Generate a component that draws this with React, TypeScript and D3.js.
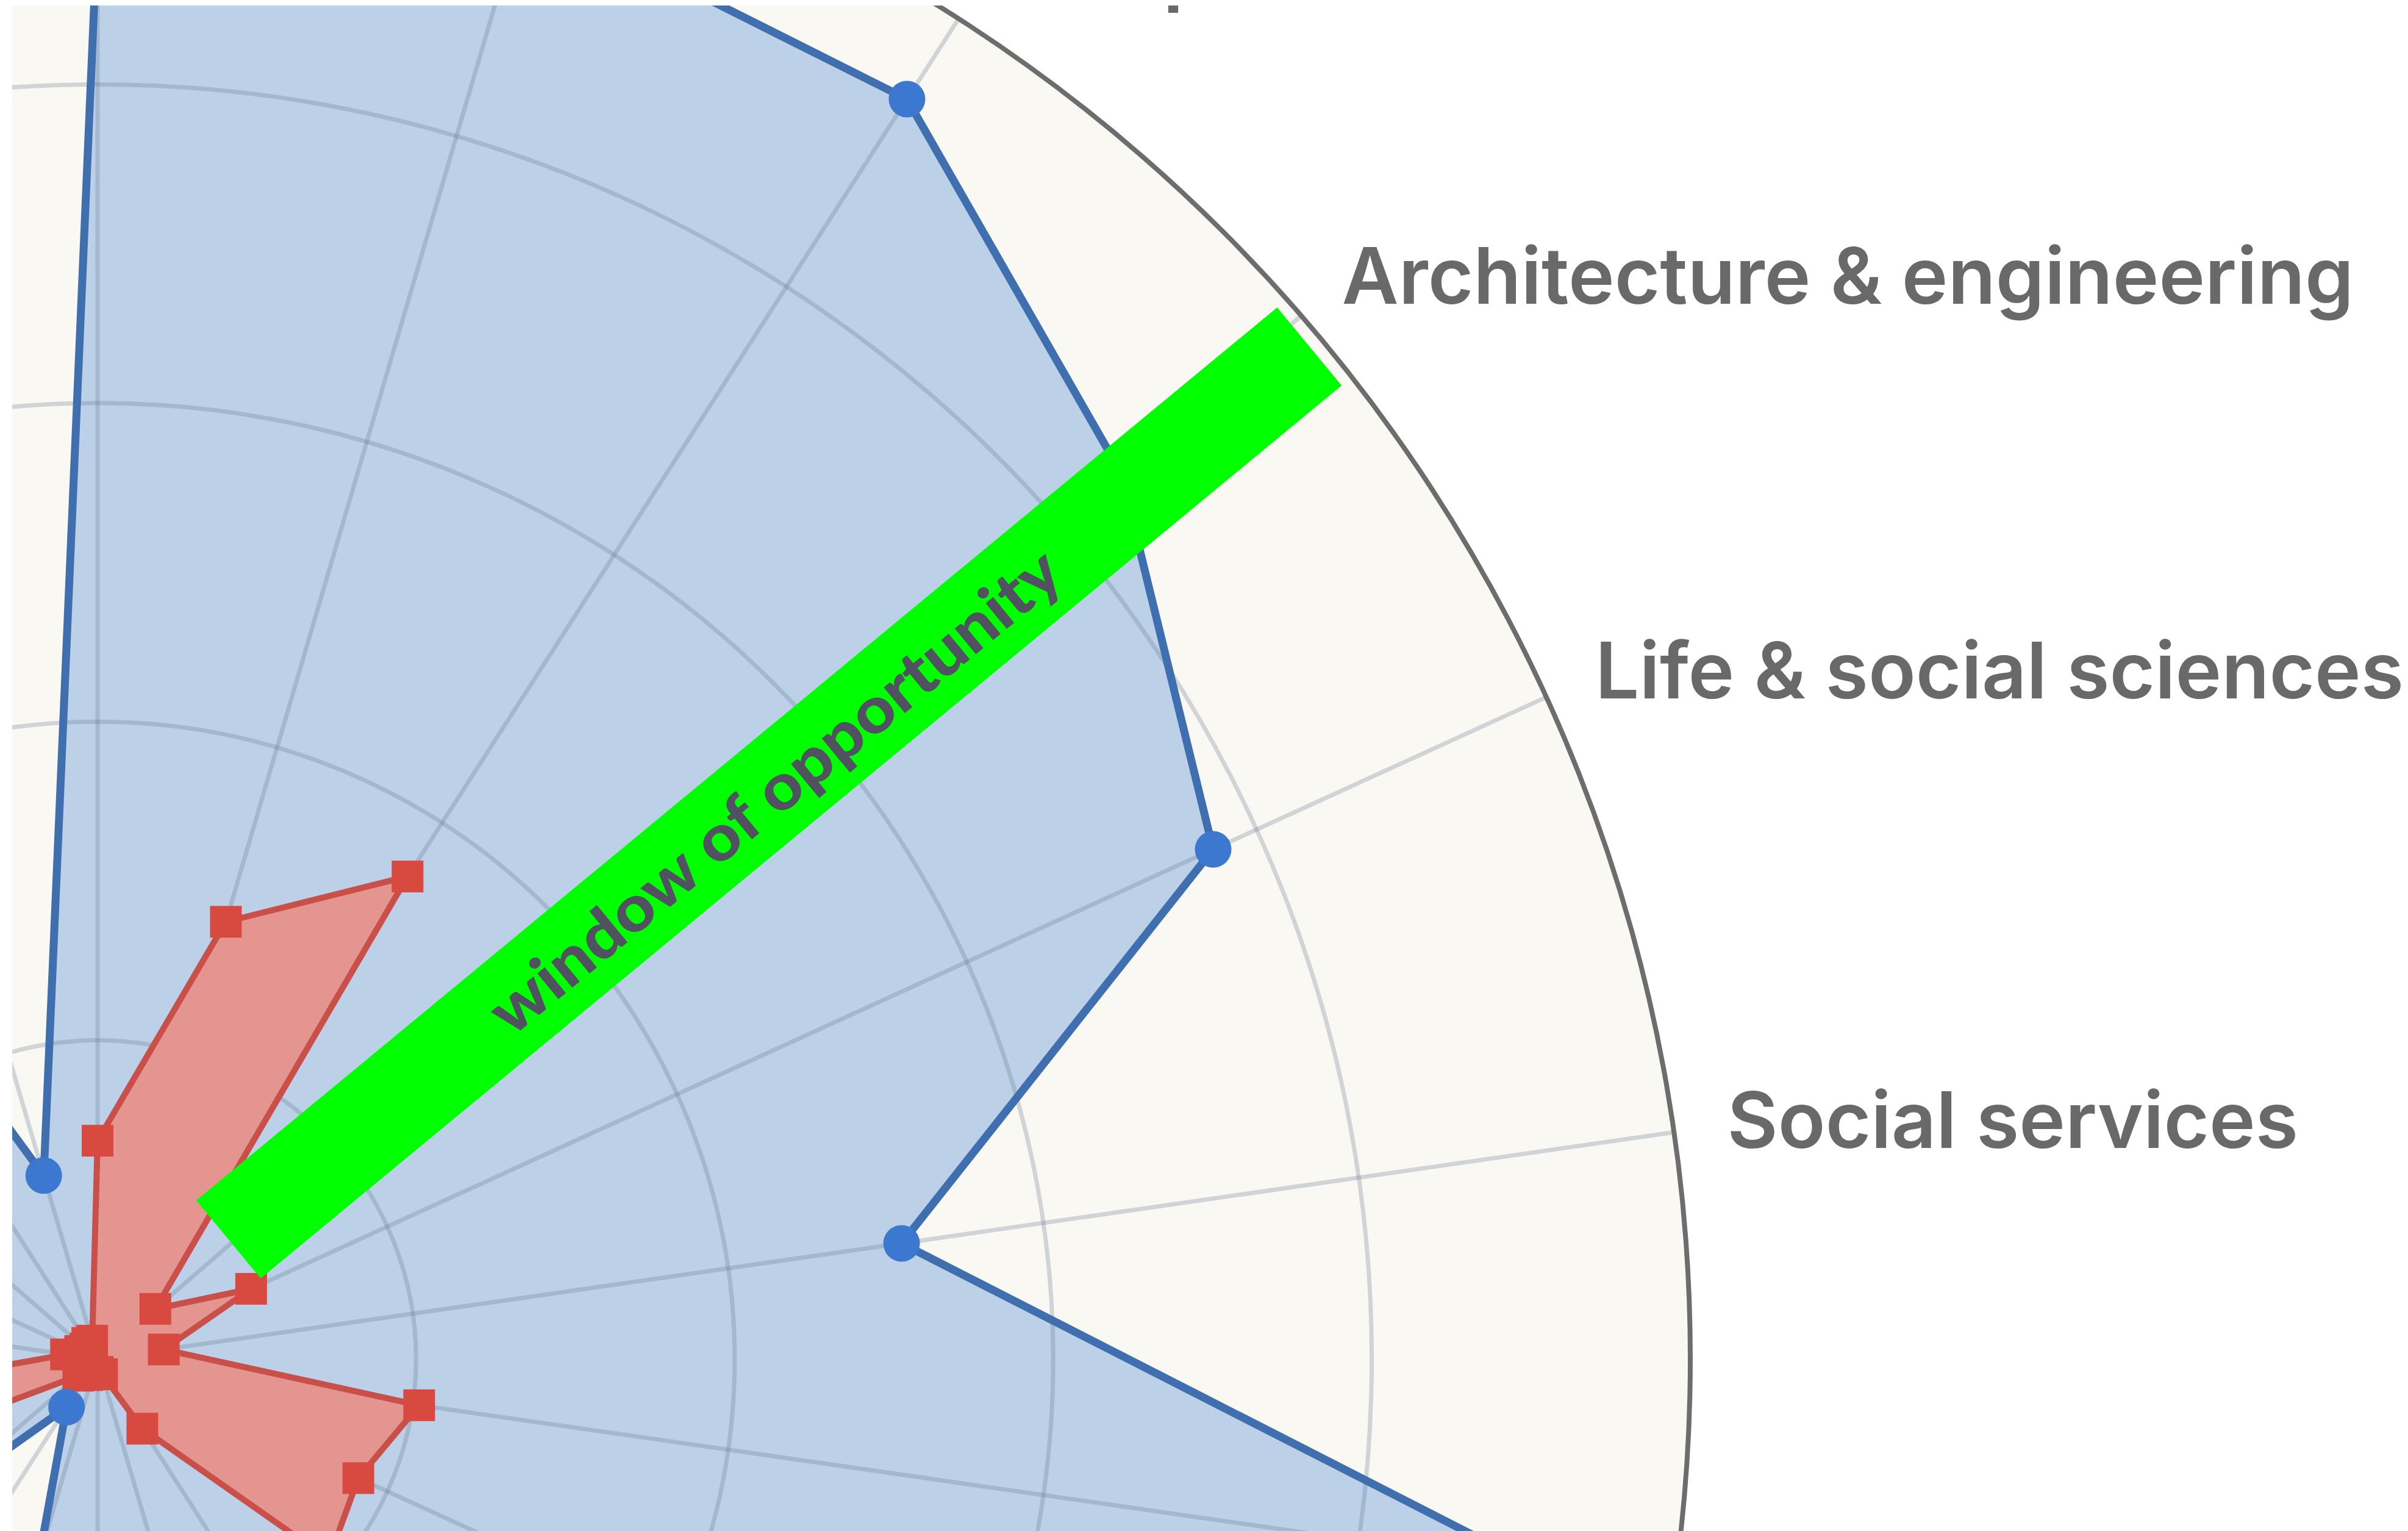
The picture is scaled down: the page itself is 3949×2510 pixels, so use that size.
import React, { useRef, useEffect } from 'react';
import * as d3 from 'd3';

// occupation groups, clockwise from the top
const categories = [
  'Management',
  'Business & finance',
  'Computer & mathematical',
  'Architecture & engineering',
  'Life & social sciences',
  'Social services',
  'Legal',
  'Education',
  'Arts & media',
  'Healthcare practitioners',
  'Healthcare support',
  'Protective services',
  'Food service',
  'Building maintenance',
  'Personal service',
  'Sales',
  'Office & administrative',
  'Farming, fishing & forestry',
  'Construction',
  'Installation & repair',
  'Production',
  'Transportation',
];

// blue series (theoretical coverage, %)
const theoretical = [90, 95, 94, 85, 77, 51, 91, 60, 50, 40, 30, 20, 13, 3.6, 14, 24, 30, 44, 56, 60, 66, 12];

// red series (observed coverage, %)
const observed = [13.7, 28.6, 36, 4.8, 10.6, 4.2, 20.4, 18, 19.2, 5.2, 1, 0.8, 1, 1.2, 1.6, 8, 18, 2, 1.2, 1, 1.2, 1.2];

const ringTicks = [20, 40, 60, 80, 100];

const annotationText = 'window of opportunity';

const WIDTH = 3949;
const HEIGHT = 2510;

const App = () => {
  const svgRef = useRef<SVGSVGElement>(null);

  useEffect(() => {
    const svg = d3.select(svgRef.current);
    svg.selectAll('*').remove();

    const cx = 160;
    const cy = 2228;
    const radius = 2612;
    const n = categories.length;

    const r = d3.scaleLinear().domain([0, 100]).range([0, radius]);
    const angle = d3.scaleLinear().domain([0, n]).range([0, 2 * Math.PI]);
    const px = (i: number, v: number) => r(v) * Math.sin(angle(i));
    const py = (i: number, v: number) => -r(v) * Math.cos(angle(i));

    svg.append('rect').attr('width', WIDTH).attr('height', HEIGHT).attr('fill', '#ffffff');

    // the source picture has a thin white border on the left and top
    svg.append('defs').append('clipPath').attr('id', 'frame')
      .append('rect').attr('x', 20).attr('y', 9).attr('width', WIDTH - 20).attr('height', HEIGHT - 9);

    const g = svg.append('g').attr('clip-path', 'url(#frame)')
      .append('g').attr('transform', `translate(${cx},${cy})`);

    // plot background
    g.append('circle').attr('r', radius).attr('fill', '#faf8f3');

    const radar = d3.lineRadial<number>()
      .angle((d, i) => angle(i))
      .radius(d => r(d))
      .curve(d3.curveLinearClosed);

    // blue area
    g.append('path').datum(theoretical).attr('d', radar).attr('fill', '#bcd0e8');

    // grid on top of the blue area
    const grid = g.append('g')
      .attr('fill', 'none')
      .attr('stroke', '#66788c')
      .attr('stroke-opacity', 0.28)
      .attr('stroke-width', 7);

    grid.selectAll('circle')
      .data(ringTicks.slice(0, -1))
      .join('circle')
      .attr('r', d => r(d));

    grid.selectAll('line')
      .data(categories)
      .join('line')
      .attr('x1', 0)
      .attr('y1', 0)
      .attr('x2', (d, i) => px(i, 100))
      .attr('y2', (d, i) => py(i, 100));

    // red area
    g.append('path').datum(observed).attr('d', radar).attr('fill', '#e4958f');

    // outlines
    g.append('path').datum(theoretical).attr('d', radar)
      .attr('fill', 'none').attr('stroke', '#3f6fae').attr('stroke-width', 13).attr('stroke-linejoin', 'round');
    g.append('path').datum(observed).attr('d', radar)
      .attr('fill', 'none').attr('stroke', '#c94f49').attr('stroke-width', 10).attr('stroke-linejoin', 'round');

    // outer ring
    g.append('circle').attr('r', r(100))
      .attr('fill', 'none').attr('stroke', '#6d6d6d').attr('stroke-width', 8);

    // markers
    const sq = 52;
    g.selectAll('rect.obs')
      .data(observed)
      .join('rect')
      .attr('class', 'obs')
      .attr('x', (d, i) => px(i, d) - sq / 2)
      .attr('y', (d, i) => py(i, d) - sq / 2)
      .attr('width', sq)
      .attr('height', sq)
      .attr('fill', '#d84a40');

    g.selectAll('circle.theo')
      .data(theoretical)
      .join('circle')
      .attr('class', 'theo')
      .attr('cx', (d, i) => px(i, d))
      .attr('cy', (d, i) => py(i, d))
      .attr('r', 30)
      .attr('fill', '#3c78cf');

    // category labels (only the ones that reach into the cropped view)
    const labelRadius = 2700;
    const labelled = categories
      .map((name, i) => ({
        name,
        x: labelRadius * Math.sin(angle(i)),
        y: -labelRadius * Math.cos(angle(i)),
        s: Math.sin(angle(i)),
      }))
      .filter(d => d.y + cy > -100 && d.y + cy < HEIGHT + 40 && d.x + cx > 0);

    g.selectAll('text.cat')
      .data(labelled)
      .join('text')
      .attr('class', 'cat')
      .attr('x', d => d.x)
      .attr('y', d => d.y)
      .attr('dy', '0.3em')
      .attr('text-anchor', d => (Math.abs(d.s) < 0.01 ? 'middle' : d.s > 0 ? 'start' : 'end'))
      .attr('font-family', 'Inter, "Noto Sans", sans-serif')
      .attr('font-weight', 600)
      .attr('font-size', 128)
      .attr('fill', '#696969')
      .text(d => d.name);

    // green annotation bar
    const ann = svg.append('g')
      .attr('transform', 'translate(1261,1300) rotate(-39.55)');

    ann.append('rect')
      .attr('x', -1149.5)
      .attr('y', -83)
      .attr('width', 2299)
      .attr('height', 166)
      .attr('fill', '#00ff00');

    ann.append('text')
      .attr('x', 9)
      .attr('y', 0)
      .attr('text-anchor', 'middle')
      .attr('dominant-baseline', 'central')
      .attr('font-family', 'Lato, Inter, sans-serif')
      .attr('font-weight', 900)
      .attr('font-size', 106)
      .attr('textLength', 1180)
      .attr('lengthAdjust', 'spacingAndGlyphs')
      .attr('fill', '#50535f')
      .text(annotationText);
  }, []);

  return (
    <div style={{ position: 'absolute', left: 0, top: 0 }}>
      <svg ref={svgRef} width={WIDTH} height={HEIGHT} style={{ display: 'block' }}></svg>
    </div>
  );
};

export default App;
